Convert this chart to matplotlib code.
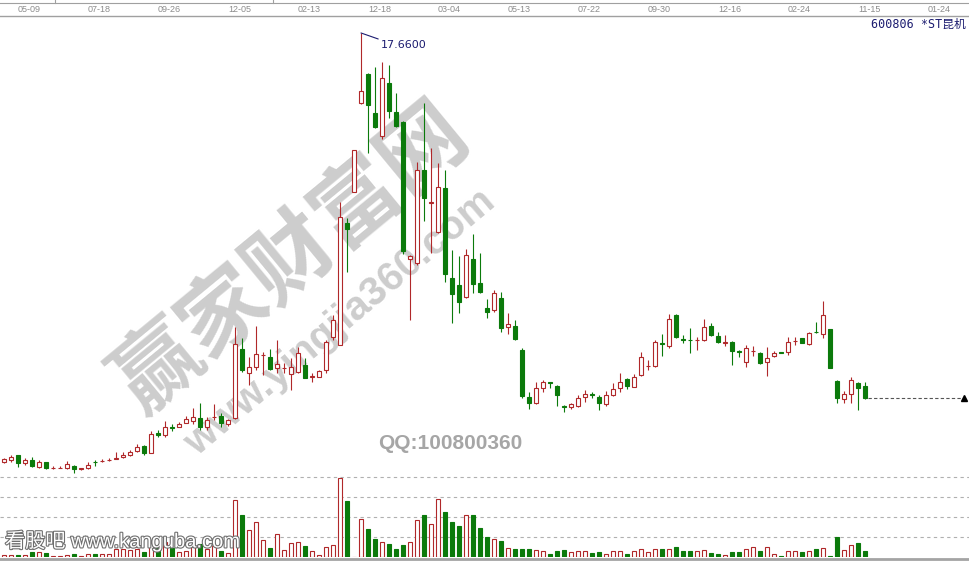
"""Weekly K-line of 600806 *ST昆机 with volume, watermarked screenshot style."""
import matplotlib
matplotlib.use("Agg")
import matplotlib.pyplot as plt
import matplotlib.patheffects as pe
from matplotlib.transforms import blended_transform_factory
import numpy as np

# tick labels on the date strip (one every 10 bars)
date_labels = ["05-09", "07-18", "09-26", "12-05", "02-13", "12-18", "03-04",
               "05-13", "07-22", "09-30", "12-16", "02-24", "11-15", "01-24"]

opens = [4.25, 4.32, 4.47, 4.21, 4.32, 4.10, 4.25, 4.06, 4.06, 4.07,
         4.13, 4.02, 4.07, 4.25, 4.27, 4.30, 4.36, 4.40, 4.46, 4.59,
         4.74, 4.54, 5.17, 5.11, 5.36, 5.36, 5.47, 5.53, 5.62, 5.36,
         5.66, 5.69, 5.44, 5.62, 7.78, 7.04, 7.23, 7.59, 7.52, 7.18,
         7.18, 6.99, 7.06, 7.28, 6.92, 6.92, 7.13, 8.15, 7.91, 11.71,
         12.70, 15.46, 16.37, 15.17, 14.44, 16.11, 15.20, 14.89, 10.61, 10.46,
         13.38, 12.35, 11.43, 12.81, 9.99, 9.78, 9.42, 10.59, 9.86, 9.06,
         9.00, 9.37, 8.46, 8.50, 7.75, 6.28, 6.09, 6.56, 6.74, 6.63,
         6.00, 5.96, 5.99, 6.27, 6.38, 6.28, 6.06, 6.35, 6.58, 6.84,
         6.61, 6.96, 7.25, 7.26, 7.97, 7.89, 8.85, 8.10, 8.08, 8.05,
         8.07, 8.50, 8.19, 7.98, 8.00, 7.72, 7.37, 7.72, 7.65, 7.39,
         7.57, 7.68, 7.68, 8.03, 8.12, 7.93, 8.31, 8.24, 8.40, 6.78,
         6.21, 6.37, 6.71, 6.63]
highs = [4.38, 4.47, 4.48, 4.38, 4.42, 4.32, 4.26, 4.13, 4.13, 4.28,
         4.16, 4.08, 4.25, 4.32, 4.36, 4.38, 4.57, 4.56, 4.63, 4.81,
         4.78, 5.23, 5.25, 5.53, 5.45, 5.49, 5.69, 5.93, 6.11, 5.65,
         6.07, 5.78, 5.59, 8.48, 8.12, 7.54, 8.50, 7.70, 7.77, 8.07,
         7.35, 7.49, 7.86, 7.49, 7.04, 7.13, 8.07, 8.85, 12.39, 11.87,
         14.00, 17.66, 16.42, 16.59, 16.76, 16.66, 15.77, 14.90, 10.71, 13.64,
         15.48, 14.06, 13.61, 13.38, 10.88, 10.69, 10.90, 11.38, 10.77, 9.34,
         9.63, 9.57, 8.90, 8.69, 7.81, 6.45, 6.75, 6.82, 6.76, 6.66,
         6.02, 6.10, 6.35, 6.50, 6.44, 6.35, 6.47, 6.71, 7.02, 6.88,
         6.99, 7.70, 7.44, 8.07, 8.25, 8.88, 8.88, 8.22, 8.43, 8.17,
         8.71, 8.59, 8.32, 8.22, 8.03, 7.75, 7.91, 7.88, 7.70, 7.84,
         7.72, 7.69, 8.15, 8.15, 8.14, 8.32, 8.64, 9.28, 8.40, 6.81,
         6.47, 6.90, 6.76, 6.74]
lows = [4.22, 4.25, 4.10, 4.16, 4.10, 4.07, 4.03, 4.03, 4.05, 4.03,
        3.91, 4.00, 4.03, 4.13, 4.26, 4.29, 4.35, 4.39, 4.45, 4.58,
        4.47, 4.52, 5.04, 5.04, 5.21, 5.35, 5.46, 5.43, 5.25, 5.25,
        5.57, 5.34, 5.39, 5.60, 7.07, 6.66, 7.13, 6.97, 7.13, 7.04,
        7.03, 6.50, 7.03, 6.87, 6.74, 6.90, 7.03, 8.07, 7.90, 10.20,
        12.70, 15.45, 13.92, 14.69, 14.34, 14.99, 14.72, 10.75, 8.69, 10.41,
        11.78, 10.77, 11.41, 9.89, 8.59, 8.90, 9.38, 9.52, 9.54, 8.76,
        8.95, 8.31, 8.24, 8.07, 6.24, 5.90, 6.06, 6.45, 6.57, 6.00,
        5.83, 5.90, 5.97, 6.14, 6.25, 5.89, 6.00, 6.32, 6.45, 6.53,
        6.60, 6.93, 7.13, 7.23, 7.57, 7.81, 8.12, 7.96, 7.67, 7.75,
        8.04, 8.19, 7.96, 7.88, 7.28, 7.52, 7.21, 7.57, 7.31, 6.95,
        7.54, 7.65, 7.60, 7.91, 7.96, 7.91, 8.28, 8.12, 7.18, 6.11,
        6.09, 6.09, 5.88, 6.21]
closes = [4.35, 4.42, 4.22, 4.32, 4.13, 4.25, 4.07, 4.07, 4.07, 4.20,
          4.02, 4.07, 4.17, 4.24, 4.29, 4.31, 4.39, 4.46, 4.56, 4.73,
          4.54, 5.12, 5.11, 5.36, 5.33, 5.45, 5.59, 5.65, 5.36, 5.57,
          5.67, 5.46, 5.57, 7.94, 7.13, 7.23, 7.63, 7.60, 7.16, 7.31,
          7.19, 7.21, 7.65, 6.89, 6.93, 7.10, 8.01, 8.69, 11.90, 11.53,
          14.00, 15.85, 15.41, 14.73, 16.24, 15.23, 14.75, 10.86, 10.69, 13.38,
          12.49, 12.36, 12.84, 10.12, 9.50, 9.24, 10.72, 9.81, 9.56, 8.95,
          9.52, 8.45, 8.57, 8.09, 6.32, 6.11, 6.56, 6.74, 6.71, 6.36,
          5.98, 6.05, 6.25, 6.38, 6.36, 6.09, 6.35, 6.52, 6.74, 6.63,
          6.92, 7.53, 7.26, 8.01, 7.93, 8.71, 8.17, 8.08, 8.06, 8.07,
          8.46, 8.22, 8.01, 7.99, 7.73, 7.70, 7.81, 7.73, 7.34, 7.49,
          7.67, 7.67, 7.99, 8.04, 7.98, 8.27, 8.30, 8.85, 7.18, 6.24,
          6.37, 6.82, 6.56, 6.26]
# volume (万手)
volumes = [2.3, 2.3, 1.7, 2.3, 4.7, 4.7, 4.0, 1.3, 1.3, 2.3,
           3.3, 1.3, 3.0, 3.3, 3.0, 3.0, 8.4, 8.4, 6.7, 8.4,
           5.0, 13.7, 8.7, 15.0, 8.7, 4.7, 6.0, 10.0, 13.4, 8.4,
           11.0, 6.0, 4.4, 56.7, 41.7, 26.7, 35.3, 16.7, 8.7, 23.3,
           7.4, 13.8, 15.3, 11.5, 5.8, 2.2, 10.3, 12.3, 79.3, 56.0,
           0.5, 38.3, 28.3, 18.3, 15.3, 12.7, 7.7, 11.7, 14.7, 36.7,
           41.7, 33.3, 58.3, 44.7, 34.7, 30.7, 41.7, 41.7, 28.7, 19.7,
           17.7, 15.7, 9.3, 7.7, 7.7, 8.3, 7.3, 6.0, 2.7, 5.7,
           6.7, 4.7, 6.0, 6.3, 3.7, 4.7, 3.3, 6.3, 6.3, 3.3,
           5.7, 8.3, 5.3, 8.3, 8.3, 8.3, 9.7, 5.7, 5.7, 5.7,
           7.3, 4.3, 3.3, 2.3, 4.7, 4.7, 8.3, 10.3, 6.3, 10.3,
           3.0, 0.7, 6.0, 5.7, 5.0, 5.7, 8.3, 9.3, 0.7, 19.7,
           6.7, 12.3, 13.7, 5.7]

opens, highs, lows, closes, volumes = map(np.array, (opens, highs, lows, closes, volumes))

W, H = 969, 561
RED = "#b0282a"
GREEN = "#0b7a0b"
NAVY = "#1c1c70"

fig = plt.figure(figsize=(W / 100, H / 100), dpi=100, facecolor="white")


def fy(py):
    return 1 - py / H


n = len(opens)
idx = np.arange(n)
xlim = (-0.57, 137.86)
up = closes >= opens
edge = np.where(up, RED, GREEN)
fill = np.where(up, "white", GREEN)

# background layer: watermarks
bg = fig.add_axes([0, 0, 1, 1], zorder=-1)
bg.set_xlim(0, W)
bg.set_ylim(H, 0)
bg.axis("off")
bg.text(292, 258, "赢家财富网", rotation=39.5, rotation_mode="anchor",
        ha="center", va="center", fontsize=62, fontweight="bold",
        family="Noto Sans CJK SC", color="#cdcdcd")
bg.text(340, 322, "www.yingjia360.com", rotation=40, rotation_mode="anchor",
        ha="center", va="center", fontsize=29, fontweight="bold",
        family="Liberation Sans", color="#cdcdcd")

# price panel
ax = fig.add_axes([0, fy(476), 1, 460 / H])
ax.patch.set_alpha(0)
ax.set_xlim(*xlim)
ax.set_ylim(3.815, 18.19)
ax.axis("off")
ax.vlines(idx, lows, highs, colors=edge, lw=0.8, zorder=1)
body = np.maximum(np.abs(closes - opens), 0.012)
ax.bar(idx, body, bottom=np.minimum(opens, closes), width=0.7,
       color=fill, edgecolor=edge, linewidth=0.8, zorder=2)

# highest price marker
imax = int(np.argmax(highs))
ax.annotate(f"{highs[imax]:.4f}", xy=(imax, highs[imax]), xytext=(20, -12),
            textcoords="offset pixels", ha="left", va="center", fontsize=8,
            color=NAVY,
            arrowprops=dict(arrowstyle="-", color=NAVY, lw=0.8,
                            shrinkA=0, shrinkB=0, relpos=(0, 1)))

# last close line
ax.hlines(closes[-1], n - 1 + 0.45, 136.9, colors="#555555", lw=0.8,
          linestyles=(0, (3, 2)))
ax.plot([137.2], [closes[-1]], marker="^", color="black", ms=4.5, clip_on=False)

# volume panel
vax = fig.add_axes([0, fy(557), 1, 80 / H])
vax.patch.set_alpha(0)
vax.set_xlim(*xlim)
vax.set_ylim(0, 80)
vax.axis("off")
for level in (20, 40, 60, 80):
    vax.axhline(level, color="#b0b0b0", lw=0.8, ls=(0, (3, 3)), zorder=0,
                clip_on=False)
vax.bar(idx, volumes, width=0.7, color=fill, edgecolor=edge, linewidth=0.8,
        zorder=2)

# overlay: date strip, frame lines, title and stamps
fg = fig.add_axes([0, 0, 1, 1], zorder=5)
fg.patch.set_alpha(0)
fg.set_xlim(0, W)
fg.set_ylim(H, 0)
fg.axis("off")
fg.plot([0, W], [2.5, 2.5], color="#a0a0a0", lw=0.8)
fg.plot([0, W], [15.5, 15.5], color="#a0a0a0", lw=1.0)
for sx in (55, 273):
    fg.plot([sx, sx], [0, 2.5], color="#a0a0a0", lw=0.8)
fg.plot([0, W], [558.5, 558.5], color="#a4a4a4", lw=2.0)

trans = blended_transform_factory(ax.transData, fig.transFigure)
for k, lab in enumerate(date_labels):
    ax.text(2 + 10 * k, fy(9.5), lab, transform=trans, ha="left", va="center",
            fontsize=6.5, family="Liberation Sans", color="#8c8c8c",
            clip_on=False)

fg.text(966, 24, "600806 *ST昆机", ha="right", va="center", fontsize=8.5,
        family=["DejaVu Sans Mono", "Noto Sans CJK SC"], color=NAVY)
fg.text(450, 443, "QQ:100800360", ha="center", va="center", fontsize=15,
        fontweight="bold", family="Liberation Sans", color="#a6a6a6")
fg.text(5, 541, "看股吧 www.kanguba.com", ha="left", va="center",
        fontsize=14.5, family=["Liberation Sans", "Noto Sans CJK SC"],
        color="white",
        path_effects=[pe.withStroke(linewidth=1.6, foreground="#6f6f6f")])

fig.savefig("out.png", dpi=100, facecolor="white")
